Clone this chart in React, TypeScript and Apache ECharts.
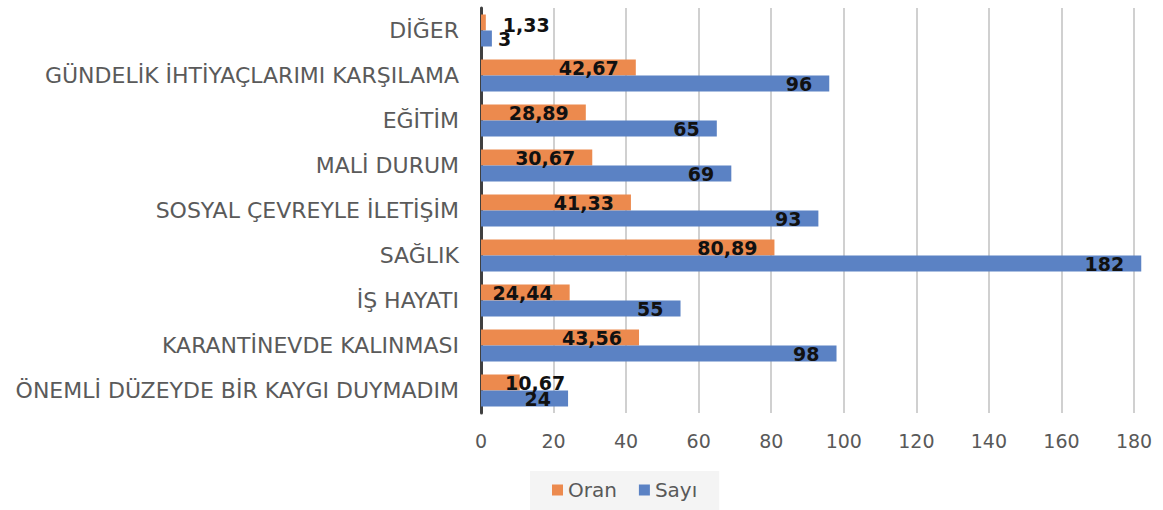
import React, { useEffect, useRef } from "react";
import * as echarts from "echarts";

const categories = [
  "DİĞER",
  "GÜNDELİK İHTİYAÇLARIMI KARŞILAMA",
  "EĞİTİM",
  "MALİ DURUM",
  "SOSYAL ÇEVREYLE İLETİŞİM",
  "SAĞLIK",
  "İŞ HAYATI",
  "KARANTİNEVDE KALINMASI",
  "ÖNEMLİ DÜZEYDE BİR KAYGI DUYMADIM",
];
const oranValues = [1.33, 42.67, 28.89, 30.67, 41.33, 80.89, 24.44, 43.56, 10.67];
const sayiValues = [3, 96, 65, 69, 93, 182, 55, 98, 24];
const seriesNames = ["Oran", "Sayı"];

const ORANGE = "#EC8A4E";
const BLUE = "#5B82C4";
const LABEL_FONT = { fontFamily: "DejaVu Sans", fontWeight: "bold" as const, fontSize: 19, color: "#111" };

export default function App() {
  const ref = useRef<HTMLDivElement>(null);
  useEffect(() => {
    if (!ref.current) return;
    const chart = echarts.init(ref.current, undefined, { renderer: "svg" });
    const oranData = oranValues.map((v, i) => {
      if (i === 0) return { value: v, label: { position: "right", distance: 17, offset: [0, 2] } };
      if (i === 8) return { value: v, label: { position: "insideLeft", distance: 24 } };
      return v;
    });
    const sayiData = sayiValues.map((v, i) => {
      if (i === 0) return { value: v, label: { position: "right", distance: 6 } };
      return v;
    });
    chart.setOption({
      animation: false,
      grid: { left: 481, right: 29, top: 8, bottom: 97, containLabel: false },
      legend: {
        data: seriesNames,
        left: 530,
        top: 471,
        backgroundColor: "#f4f4f4",
        padding: [9, 22, 10, 22],
        icon: "rect",
        itemWidth: 11,
        itemHeight: 11,
        itemGap: 22,
        textStyle: { color: "#595959", fontSize: 20, fontFamily: "DejaVu Sans" },
      },
      xAxis: {
        type: "value",
        min: 0,
        max: 180,
        interval: 20,
        axisLine: { show: false },
        axisTick: { show: false },
        axisLabel: { color: "#595959", fontSize: 19, fontFamily: "DejaVu Sans", margin: 18 },
        splitLine: { show: true, lineStyle: { color: "#d0d0d0", width: 2 } },
      },
      yAxis: {
        type: "category",
        data: categories,
        inverse: true,
        axisLine: { show: true, lineStyle: { color: "#404040", width: 3 } },
        axisTick: { show: false },
        axisLabel: { color: "#5a5a5a", fontSize: 22, fontFamily: "DejaVu Sans", margin: 22 },
      },
      series: [
        {
          name: seriesNames[0],
          type: "bar",
          data: oranData,
          barWidth: 16,
          barGap: "0%",
          clip: false,
          itemStyle: { color: ORANGE },
          label: {
            show: true,
            position: "insideRight",
            distance: 17,
            ...LABEL_FONT,
            formatter: (p: any) => Number(p.value).toFixed(2).replace(".", ","),
          },
        },
        {
          name: seriesNames[1],
          type: "bar",
          data: sayiData,
          barWidth: 16,
          barGap: "0%",
          clip: false,
          itemStyle: { color: BLUE },
          label: {
            show: true,
            position: "insideRight",
            distance: 17,
            ...LABEL_FONT,
          },
        },
      ],
    });
    return () => chart.dispose();
  }, []);
  return (
    <div
      ref={ref}
      style={{ position: "fixed", left: 0, top: 0, width: 1163, height: 510, background: "#fff" }}
    />
  );
}
